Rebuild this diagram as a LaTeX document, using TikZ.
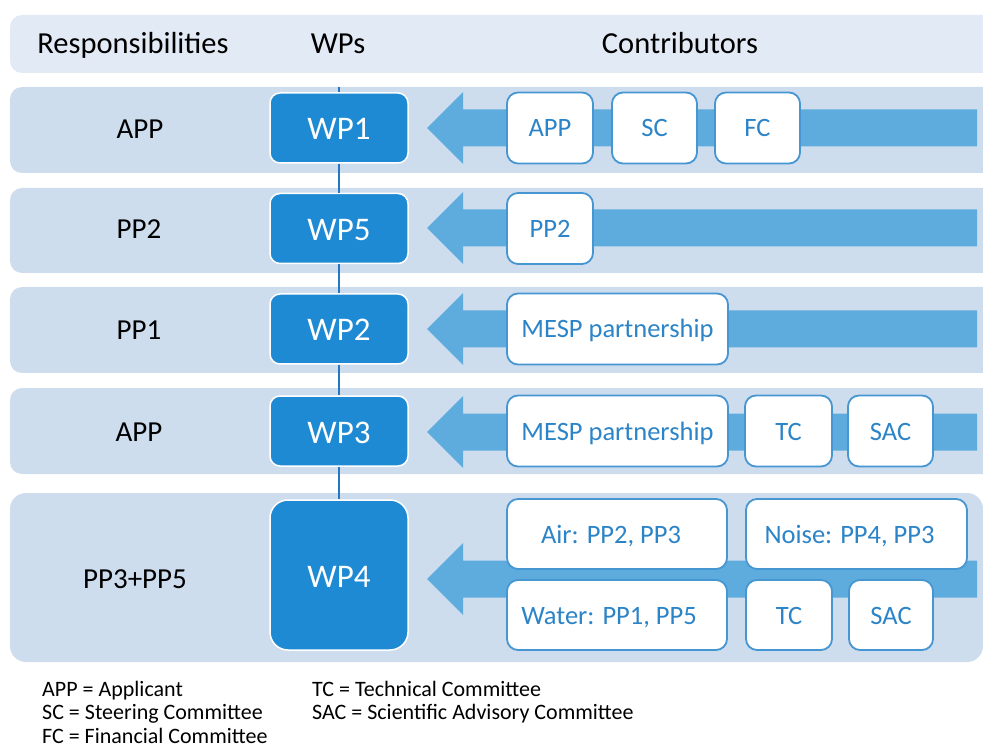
\documentclass[tikz,border=0pt]{standalone}
\usepackage{fontspec}
\setmainfont{Carlito}
\definecolor{headc}{RGB}{226,234,245}
\definecolor{bandc}{RGB}{206,221,238}
\definecolor{arrc}{RGB}{94,172,221}
\definecolor{wpc}{RGB}{30,138,212}
\definecolor{boxc}{RGB}{70,150,210}
\definecolor{boxtext}{RGB}{44,132,200}
\definecolor{linec}{RGB}{38,118,192}
\newcommand{\bigarrowat}[1]{%
  \fill[arrc] (427,#1) -- (463,#1-36) -- (463,#1-18.5) -- (977,#1-18.5) -- (977,#1+18.5) -- (463,#1+18.5) -- (463,#1+36) -- cycle;}
\begin{document}
\begin{tikzpicture}[x=1pt,y=-1pt,
  wpbox/.style={fill=wpc, draw=white, line width=1.5pt, rounded corners=10pt,
    minimum width=138pt, minimum height=70pt, text=white, inner sep=0pt,
    font=\fontsize{33}{38}\selectfont, text height=24pt, text depth=0pt},
  cbox/.style={fill=white, draw=boxc, line width=1.8pt, rounded corners=11pt,
    minimum height=71pt, text=boxtext, inner sep=0pt,
    font=\fontsize{26.5}{30}\selectfont, text height=18pt, text depth=0pt},
  lbl/.style={font=\fontsize{29}{34}\selectfont, text=black, inner sep=0pt,
    text height=21pt, text depth=0pt},
  hlbl/.style={font=\fontsize{30.5}{35}\selectfont, text=black, inner sep=0pt,
    text height=19pt, text depth=0pt},
  leg/.style={font=\fontsize{22}{26}\selectfont, anchor=base west, inner sep=0pt},
  vline/.style={draw=linec, line width=2pt}]
\useasboundingbox (0,0) rectangle (983,751);
\clip (0,0) rectangle (983,751);
% bands
\fill[headc, rounded corners=12pt] (10,15) rectangle (1000,73);
\fill[bandc, rounded corners=12pt] (10,87) rectangle (1000,173);
\fill[bandc, rounded corners=12pt] (10,188) rectangle (1000,273);
\fill[bandc, rounded corners=12pt] (10,287) rectangle (1000,373);
\fill[bandc, rounded corners=12pt] (10,388) rectangle (1000,474);
\fill[bandc, rounded corners=16pt] (10,493) rectangle (983,662);
% header
\node[hlbl] (hr) at (133,44) {Responsibilities};
\node[hlbl] (hw) at (338,44) {WPs};
\node[hlbl] (hc) at (680,44) {Contributors};
% responsibilities
\node[lbl] (r1) at (140,128) {APP};
\node[lbl] (r2) at (139,228.5) {PP2};
\node[lbl] (r3) at (139,329) {PP1};
\node[lbl] (r4) at (139,431) {APP};
\node[lbl] (r5) at (135,578) {PP3+PP5};
% arrows
\bigarrowat{128}
\bigarrowat{228}
\bigarrowat{329}
\bigarrowat{432}
\bigarrowat{579}
% WPs
\coordinate (vtop) at (339,87);
\node[wpbox] (wp1) at (339,128) {WP1};
\node[wpbox] (wp5) at (339,228.5) {WP5};
\node[wpbox] (wp2) at (339,329) {WP2};
\node[wpbox] (wp3) at (339,431) {WP3};
\node[wpbox, minimum height=150pt, rounded corners=18pt] (wp4) at (339,575) {WP4};
\draw[vline] (vtop) -- (wp1.north);
\draw[vline] (wp1.south) -- (wp5.north);
\draw[vline] (wp5.south) -- (wp2.north);
\draw[vline] (wp2.south) -- (wp3.north);
\draw[vline] (wp3.south) -- (wp4.north);
% contributors
\node[cbox, minimum width=86pt] (c1a) at (550,128) {APP};
\node[cbox, minimum width=85pt] (c1b) at (654.5,128) {SC};
\node[cbox, minimum width=85pt] (c1c) at (757.5,128) {FC};
\node[cbox, minimum width=86pt] (c2a) at (550,228.5) {PP2};
\node[cbox, minimum width=221pt] (c3a) at (617.5,329) {MESP partnership};
\node[cbox, minimum width=221pt] (c4a) at (617.5,431) {MESP partnership};
\node[cbox, minimum width=87pt] (c4b) at (788.5,431) {TC};
\node[cbox, minimum width=85pt] (c4c) at (890.5,431) {SAC};
\node[cbox, minimum width=220pt, minimum height=70pt] (c5a) at (617,534) {Air: PP2, PP3\hspace*{12pt}};
\node[cbox, minimum width=221pt, minimum height=70pt] (c5b) at (856.5,534) {Noise: PP4, PP3\hspace*{14pt}};
\node[cbox, minimum width=220pt, minimum height=70pt] (c5c) at (617,615) {Water: PP1, PP5\hspace*{16pt}};
\node[cbox, minimum width=86pt, minimum height=70pt] (c5d) at (789,615) {TC};
\node[cbox, minimum width=84pt, minimum height=70pt] (c5e) at (891,615) {SAC};
% legend
\node[leg] (l1) at (42,696) {APP = Applicant};
\node[leg] (l2) at (42,719.5) {SC = Steering Committee};
\node[leg] (l3) at (42,743) {FC = Financial Committee};
\node[leg] (l4) at (312,696) {TC = Technical Committee};
\node[leg] (l5) at (312,719.5) {SAC = Scientific Advisory Committee};
\end{tikzpicture}
\end{document}
